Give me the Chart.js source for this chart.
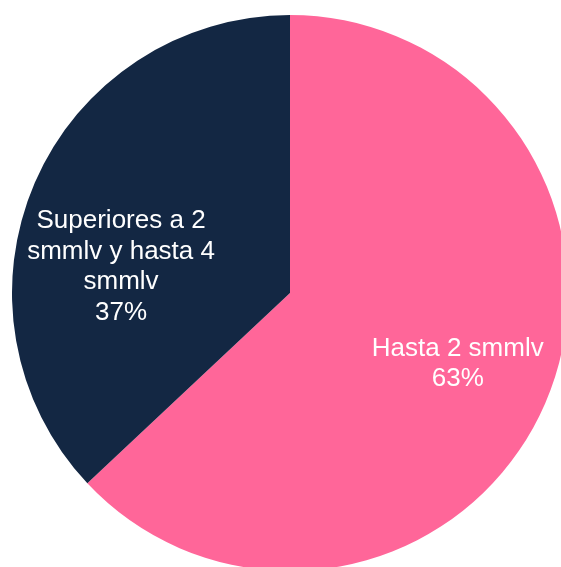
<!DOCTYPE html>
<html>
<head>
<meta charset="utf-8">
<script src="https://cdn.jsdelivr.net/npm/chart.js@4"></script>
<style>
    html, body { margin: 0; padding: 0; background: #fff; overflow: hidden; }
    body { width: 561px; height: 567px; position: relative; }
    #wrap { position: absolute; left: 12px; top: 15px; width: 556px; height: 556px; }
</style>
</head>
<body>
<div id="wrap"><canvas id="pieChart"></canvas></div>
<script>
// Slice labels (each line on its own row) and their shares
const categories = [
    ['Hasta 2 smmlv'],
    ['Superiores a 2', 'smmlv y hasta 4', 'smmlv']
];
const shares = [63, 37];
const sliceColors = ['#FF6699', '#132743'];

/**
 * Draws the category name and percentage inside each slice,
 * roughly where the original chart placed them.
 */
const sliceLabels = {
    id: 'sliceLabels',
    afterDatasetsDraw(chart, args, opts) {
        const ctx = chart.ctx;
        const meta = chart.getDatasetMeta(0);
        ctx.save();
        ctx.fillStyle = opts.color;
        ctx.font = opts.font;
        ctx.textAlign = 'center';
        ctx.textBaseline = 'middle';
        meta.data.forEach((arc, i) => {
            const p = arc.getProps(['x', 'y', 'startAngle', 'endAngle', 'outerRadius'], true);
            const place = opts.places[i] || [0.6, 0];
            const mid = (p.startAngle + p.endAngle) / 2 + place[1] * Math.PI / 180;
            const r = p.outerRadius * place[0];
            const cx = p.x + Math.cos(mid) * r;
            const cy = p.y + Math.sin(mid) * r;
            const lines = categories[i].concat([shares[i] + '%']);
            const top = cy - (lines.length - 1) * opts.lineHeight / 2;
            lines.forEach((line, j) => ctx.fillText(line, cx, top + j * opts.lineHeight));
        });
        ctx.restore();
    }
};

new Chart(document.getElementById('pieChart'), {
    type: 'pie',
    data: {
        labels: categories.map(c => c.join(' ')),
        datasets: [{
            data: shares,
            backgroundColor: sliceColors,
            borderWidth: 0
        }]
    },
    options: {
        responsive: true,
        maintainAspectRatio: false,
        animation: false,
        layout: { padding: 0 },
        plugins: {
            legend: { display: false },
            tooltip: { enabled: false },
            sliceLabels: {
                color: '#ffffff',
                font: '26px "Liberation Sans", Arial, sans-serif',
                lineHeight: 30.5,
                places: [[0.655, -0.5], [0.615, -14.6]]
            }
        }
    },
    plugins: [sliceLabels]
});
</script>
</body>
</html>
